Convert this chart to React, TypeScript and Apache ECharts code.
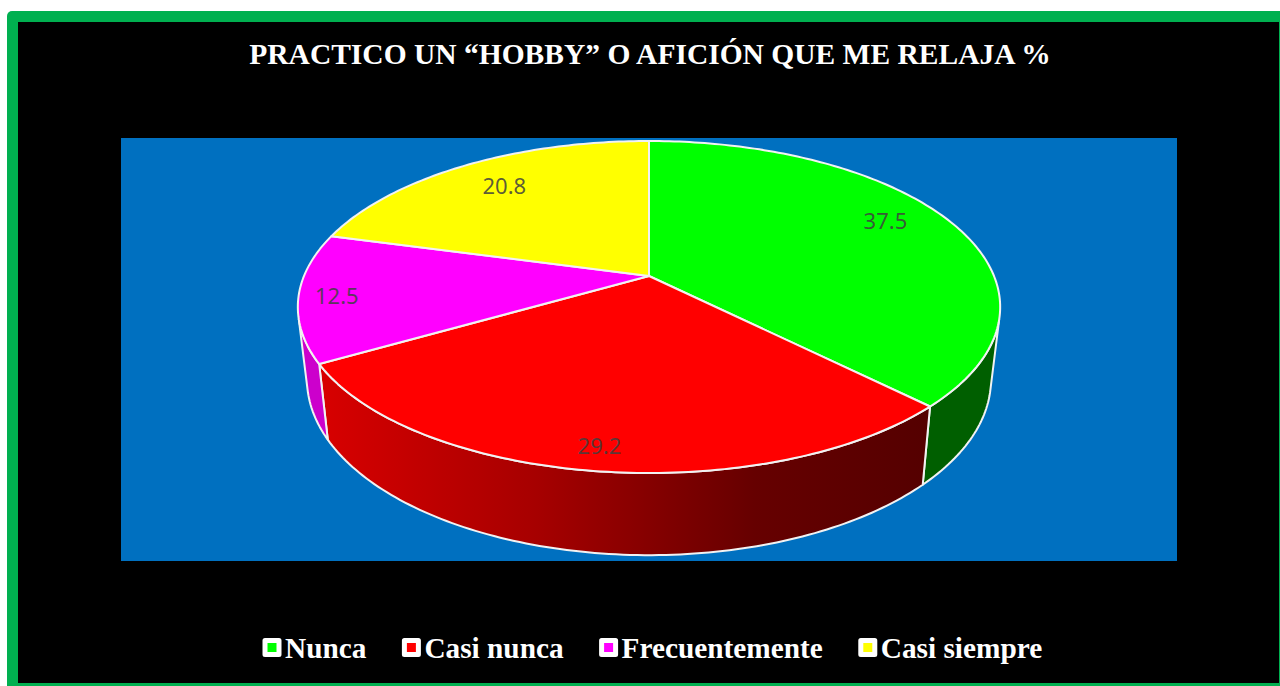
import React, { useEffect, useRef } from "react";
import * as echarts from "echarts";

const categories = ["Nunca", "Casi nunca", "Frecuentemente", "Casi siempre"];
const values = [37.5, 29.2, 12.5, 20.8];
const valueLabels = ["37.5", "29.2", "12.5", "20.8"];
const topColors = ["#00FF00", "#FF0000", "#FF00FF", "#FFFF00"];
const sideStops: [number, string][][] = [
  [[0, "#005F00"], [1, "#005F00"]],
  [[0, "#D80000"], [0.36, "#A60000"], [0.72, "#660000"], [1, "#550000"]],
  [[0, "#CC00CC"], [1, "#CC00CC"]],
  [[0, "#CCCC00"], [1, "#CCCC00"]],
];
const TITLE = "PRACTICO UN “HOBBY” O AFICIÓN QUE ME RELAJA %";

// Perspective projection of the disc (upper and lower faces)
const CX = 649;
const PERSP = -0.1867;
const UPPER = { d: 345, a: 276, b: 108.7 };
const LOWER = { d: 336, a: 346.5, b: 105 };
const LABEL_R = [0.85, 0.893, 0.89, 0.78];
const LABEL_SHIFT = [[-19, -7], [-1, -1], [-1, 0], [2, -2]];
const RIM = "#F2F2F2";

function project(face: { d: number; a: number; b: number }, theta: number, r = 1): number[] {
  const u = Math.sin(theta) * r;
  const v = -Math.cos(theta) * r;
  const w = 1 + PERSP * v;
  return [CX + (face.d * u) / w, (face.a + face.b * v) / w];
}

function isFront(theta: number): boolean {
  const e = 0.001;
  const p0 = project(UPPER, theta - e);
  const p1 = project(UPPER, theta + e);
  const t = project(UPPER, theta);
  const l = project(LOWER, theta);
  const tx = p1[0] - p0[0];
  const ty = p1[1] - p0[1];
  return tx * (l[1] - t[1]) - ty * (l[0] - t[0]) < 0;
}

function sliceStart(index: number): number {
  const total = values.reduce((s, x) => s + x, 0);
  let acc = 0;
  for (let i = 0; i < index; i++) acc += values[i];
  return (acc / total) * Math.PI * 2;
}

function makeRenderItem(index: number) {
  return (_params: any, api: any) => {
    const start = sliceStart(index);
    const total = values.reduce((s, x) => s + x, 0);
    const end = start + (api.value(0) / total) * Math.PI * 2;
    const steps = Math.max(4, Math.ceil(((end - start) / Math.PI) * 180));
    const thetas: number[] = [];
    for (let i = 0; i <= steps; i++) thetas.push(start + ((end - start) * i) / steps);

    const top = [[CX, UPPER.a], ...thetas.map((t) => project(UPPER, t))];
    const visible = thetas.filter(isFront);
    const children: any[] = [];
    if (visible.length > 1) {
      const side = [
        ...visible.map((t) => project(UPPER, t)),
        ...visible.slice().reverse().map((t) => project(LOWER, t)),
      ];
      children.push({
        type: "polygon",
        z2: 1,
        shape: { points: side },
        style: {
          fill: new echarts.graphic.LinearGradient(
            320, 0, 923, 0,
            sideStops[index].map(([offset, color]) => ({ offset, color })),
            true
          ),
          stroke: RIM,
          lineWidth: 2,
          lineJoin: "round",
        },
      });
    }
    children.push({
      type: "polygon",
      z2: 2,
      shape: { points: top },
      style: { fill: topColors[index], stroke: RIM, lineWidth: 2, lineJoin: "round" },
    });
    const mid = (start + end) / 2;
    const lp = project(UPPER, mid, LABEL_R[index]);
    children.push({
      type: "text",
      z2: 3,
      style: {
        text: valueLabels[index],
        x: lp[0] + LABEL_SHIFT[index][0],
        y: lp[1] + LABEL_SHIFT[index][1],
        fill: "rgba(64,64,64,0.85)",
        font: '22px "Noto Sans"',
        align: "center",
        verticalAlign: "middle",
      },
    });
    return { type: "group", children };
  };
}

export default function App() {
  const ref = useRef<HTMLDivElement>(null);
  useEffect(() => {
    document.body.style.margin = "0";
    document.body.style.background = "#fff";
    const chart = echarts.init(ref.current!, undefined, { renderer: "svg" });
    chart.setOption({
      animation: false,
      backgroundColor: "#FFFFFF",
      title: {
        text: TITLE,
        left: 645,
        top: 34,
        textAlign: "center",
        textStyle: {
          color: "#FFFFFF",
          fontFamily: '"Liberation Serif"',
          fontWeight: "bold",
          fontSize: 29.5,
        },
      },
      legend: {
        data: categories,
        left: 262.5,
        top: 633,
        padding: 0,
        orient: "horizontal",
        selectedMode: false,
        icon: "rect",
        itemWidth: 14,
        itemHeight: 14,
        itemGap: 35.5,
        itemStyle: { borderColor: "#FFFFFF", borderWidth: 5, borderJoin: "round" },
        textStyle: {
          color: "#FFFFFF",
          fontFamily: '"Liberation Serif"',
          fontWeight: "bold",
          fontSize: 29.3,
          padding: [0, 0, 0, 1],
        },
      },
      graphic: [
        { type: "rect", z: 0, shape: { x: 7, y: 11, width: 1280, height: 680, r: 5 }, style: { fill: "#00B050" } },
        { type: "rect", z: 0, shape: { x: 18, y: 22, width: 1261, height: 661 }, style: { fill: "#000000" } },
        { type: "rect", z: 0, shape: { x: 121, y: 138, width: 1056, height: 423 }, style: { fill: "#0070C0" } },
      ],
      series: categories.map((name, i) => ({
        type: "custom",
        name,
        coordinateSystem: "none",
        silent: true,
        itemStyle: { color: topColors[i] },
        data: [[values[i]]],
        renderItem: makeRenderItem(i),
      })),
    });
    return () => chart.dispose();
  }, []);
  return <div ref={ref} style={{ width: 1280, height: 686 }} />;
}
